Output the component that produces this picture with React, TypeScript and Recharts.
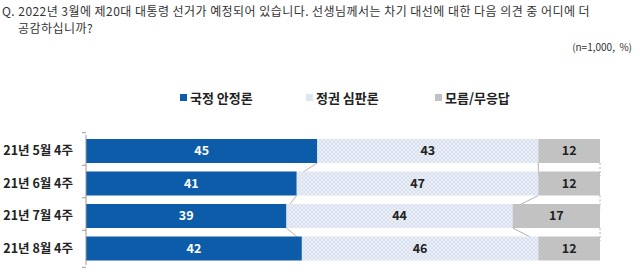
import React from "react";
import { BarChart, Bar, XAxis, YAxis, LabelList, Legend } from "recharts";

const categories = ["21년 5월 4주", "21년 6월 4주", "21년 7월 4주", "21년 8월 4주"];
const stability = [45, 41, 39, 42];
const judgment = [43, 47, 44, 46];
const unknown = [12, 12, 17, 12];
const seriesNames = ["국정 안정론", "정권 심판론", "모름/무응답"];
const seriesValues = [stability, judgment, unknown];

const data = categories.map((c, i) => ({
  name: c,
  s1: stability[i],
  s2: judgment[i],
  s3: unknown[i],
}));

const W = 640;
const H = 277;
const TOP = 117;
const BOTTOM = 12;
const AXIS_W = 86;
const RIGHT = 40;
const PLOT_H = H - TOP - BOTTOM;
const STEP = PLOT_H / categories.length;
const FONT = "'Noto Sans CJK KR', 'Noto Sans', sans-serif";

const BLUE = "#0d5ca9";
const GRAY = "#c2c2c2";
const LEGEND_LEFT = [180, 306, 435];

function cum(row: number, upto: number) {
  let s = 0;
  for (let k = 0; k <= upto; k++) s += seriesValues[k][row];
  return s;
}

function makeShape(k: number, fill: string) {
  return (props: any) => {
    const { x, y, width, height, index } = props;
    const els: any[] = [
      <rect key="r" x={x} y={y} width={width} height={height} fill={fill} />,
    ];
    if (index < categories.length - 1) {
      const v = seriesValues[k][index];
      const per = width / v;
      const start0 = x - (cum(index, k) - v) * per;
      const endX = x + width;
      const nextEnd = start0 + cum(index + 1, k) * per;
      els.push(
        <line
          key="l"
          x1={endX}
          y1={y + height}
          x2={nextEnd}
          y2={y + STEP}
          stroke="#a0a0a0"
          strokeWidth={0.8}
          strokeDasharray={k === 2 ? "2 2" : undefined}
        />
      );
    }
    return <g>{els}</g>;
  };
}

const CatTick = (props: any) => {
  const { y, payload, index } = props;
  const axisX = AXIS_W;
  return (
    <g>
      <text
        x={73}
        y={y}
        dy={4}
        textAnchor="end"
        fontFamily={FONT}
        fontSize={12.5}
        fontWeight={700}
        fill="#222"
      >
        {payload.value}
      </text>
      <line x1={axisX - 4} y1={y - STEP / 2} x2={axisX} y2={y - STEP / 2} stroke="#9a9a9a" />
      {index === categories.length - 1 && (
        <line x1={axisX - 4} y1={y + STEP / 2} x2={axisX} y2={y + STEP / 2} stroke="#9a9a9a" />
      )}
    </g>
  );
};

const legendFills = [BLUE, "#dfe6f2", GRAY];

const LegendContent = () => (
  <div
    style={{
      position: "relative",
      height: 18,
      fontFamily: FONT,
      fontSize: 13,
      fontWeight: 700,
      color: "#222",
    }}
  >
    {seriesNames.map((n, i) => (
      <div
        key={n}
        style={{ position: "absolute", left: LEGEND_LEFT[i], top: 0, display: "flex", alignItems: "center", whiteSpace: "nowrap" }}
      >
        <svg width={7} height={7} style={{ marginRight: 3 }}>
          <rect width={7} height={7} fill={legendFills[i]} />
        </svg>
        <span>{n}</span>
      </div>
    ))}
  </div>
);

export default function App() {
  return (
    <div
      style={{
        position: "absolute",
        left: 0,
        top: 0,
        width: W,
        height: H,
        background: "#fff",
        fontFamily: FONT,
      }}
    >
      <div
        style={{
          position: "absolute",
          left: 2,
          top: 2,
          width: 638,
          fontSize: 12,
          lineHeight: "17px",
          letterSpacing: 0.45,
          color: "#333",
          whiteSpace: "nowrap",
        }}
      >
        <div>Q. 2022년 3월에 제20대 대통령 선거가 예정되어 있습니다. 선생님께서는 차기 대선에 대한 다음 의견 중 어디에 더</div>
        <div style={{ paddingLeft: 16 }}>공감하십니까?</div>
      </div>
      <div
        style={{
          position: "absolute",
          right: 8,
          top: 39,
          fontSize: 10,
          color: "#333",
          whiteSpace: "pre",
        }}
      >
        (n=1,000,  %)
      </div>
      <BarChart
        width={W}
        height={H}
        data={data}
        layout="vertical"
        margin={{ top: TOP, right: RIGHT, bottom: BOTTOM, left: 0 }}
        barSize={24}
      >
        <defs>
          <pattern id="hatch" width="4" height="4" patternUnits="userSpaceOnUse">
            <rect width="4" height="4" fill="#e9eef7" />
            <path d="M0,4 L4,0 M0,0 L4,4" stroke="#d2dbeb" strokeWidth="0.7" />
          </pattern>
        </defs>
        <XAxis type="number" domain={[0, 100]} hide />
        <YAxis
          type="category"
          dataKey="name"
          width={AXIS_W}
          axisLine={{ stroke: "#9a9a9a" }}
          tickLine={false}
          tick={<CatTick />}
          interval={0}
        />
        <Legend
          verticalAlign="top"
          content={<LegendContent />}
          wrapperStyle={{ top: 88, left: 0, width: W }}
        />
        <Bar dataKey="s1" stackId="a" fill={BLUE} isAnimationActive={false} shape={makeShape(0, BLUE)}>
          <LabelList dataKey="s1" position="center" fill="#fff" fontSize={12.5} fontWeight={700} fontFamily={FONT} />
        </Bar>
        <Bar dataKey="s2" stackId="a" fill="#dfe6f2" isAnimationActive={false} shape={makeShape(1, "url(#hatch)")}>
          <LabelList dataKey="s2" position="center" fill="#222" fontSize={12.5} fontWeight={700} fontFamily={FONT} />
        </Bar>
        <Bar dataKey="s3" stackId="a" fill={GRAY} isAnimationActive={false} shape={makeShape(2, GRAY)}>
          <LabelList dataKey="s3" position="center" fill="#222" fontSize={12.5} fontWeight={700} fontFamily={FONT} />
        </Bar>
      </BarChart>
    </div>
  );
}
